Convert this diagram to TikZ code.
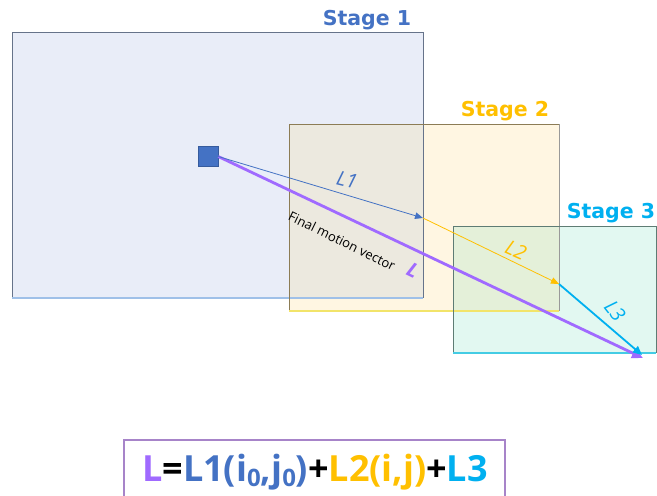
\documentclass[tikz,border=0pt]{standalone}
\usepackage{fontspec}
\setmainfont{Open Sans}
\newfontfamily\dvs{DejaVu Sans}
\usetikzlibrary{arrows.meta}
\definecolor{cblue}{HTML}{4472C4}
\definecolor{cyel}{HTML}{FFC000}
\definecolor{ccyan}{HTML}{00B0F0}
\definecolor{cpurp}{HTML}{A06AFF}
\definecolor{fone}{HTML}{E9EDF8}
\definecolor{ftwo}{HTML}{FFF6E2}
\definecolor{fthree}{HTML}{E2F8F1}
\definecolor{fot}{HTML}{ECE9DF}
\definecolor{fott}{HTML}{E4F0D9}
\definecolor{bone}{HTML}{66738A}
\definecolor{bonel}{HTML}{9FC0E8}
\definecolor{btwo}{HTML}{8C7C55}
\definecolor{btwol}{HTML}{F2E46A}
\definecolor{bthree}{HTML}{5E7C74}
\definecolor{bthreel}{HTML}{44CCE4}
\definecolor{boxc}{HTML}{A784C9}
\tikzset{
  stagebox/.style={inner sep=0pt, outer sep=0pt},
  stagelbl/.style={font=\dvs\bfseries\fontsize{20.5}{22}\selectfont, inner sep=0pt},
  veclbl/.style={font=\itshape\fontsize{20}{22}\selectfont, inner sep=0pt},
  tipA/.style={-{Triangle[length=8pt,width=6.5pt]}},
}
\begin{document}
\begin{tikzpicture}[x=1pt,y=-1pt]
\useasboundingbox[fill=white] (0,0) rectangle (657,496);
% stage fills
\node[stagebox, fill=fone, minimum width=411pt, minimum height=266pt] (s1) at (217.5,165) {};
\node[stagebox, fill=ftwo, minimum width=270pt, minimum height=187pt] (s2) at (424,217.5) {};
\fill[fot] (289,124) rectangle (423,298);
\node[stagebox, fill=fthree, minimum width=203pt, minimum height=127pt] (s3) at (554.5,289.5) {};
\fill[fott] (453,226) rectangle (559,311);
% borders (bevel look)
\draw[bone, line width=1pt] (s1.south west) -- (s1.north west) -- (s1.north east) -- (s1.south east);
\draw[bonel, line width=1.2pt] (s1.south west) -- (s1.south east);
\draw[btwo, line width=1pt] (s2.south west) -- (s2.north west) -- (s2.north east);
\draw[gray!80, line width=1pt] (s2.north east) -- (s2.south east);
\draw[btwol, line width=1.2pt] (s2.south west) -- (s2.south east);
\draw[bthree, line width=1pt] (s3.south west) -- (s3.north west) -- (s3.north east) -- (s3.south east);
\draw[bthreel, line width=1.2pt] (s3.south west) -- (s3.south east);
% stage labels
\node[stagelbl, text=cblue] (t1) at (367,20) {Stage 1};
\node[stagelbl, text=cyel] (t2) at (505,111) {Stage 2};
\node[stagelbl, text=ccyan] (t3) at (611,213) {Stage 3};
% start square
\node[draw=cblue!80!black, line width=0.5pt, fill=cblue, minimum size=20pt, inner sep=0pt] (sq) at (208,156.5) {};
% vector end points
\coordinate (e1) at (423,218);
\coordinate (e2) at (559,284);
\coordinate (e3) at (642,355);
\coordinate (ef) at (643,358);
% final vector
\draw[cpurp, line width=2.8pt, -{Triangle[length=11pt,width=10pt]}] (sq.east) -- (ef);
% stage vectors
\draw[cblue, line width=0.8pt, tipA] (sq.east) -- (e1);
\draw[cyel, line width=0.8pt, tipA] (e1) -- (e2);
\draw[ccyan, line width=1.8pt, -{Triangle[length=9pt,width=8pt]}] (e2) -- (e3);
% vector labels
\node[veclbl, text=cblue, rotate=-14] (l1) at (347,180) {L1};
\node[veclbl, text=cyel, rotate=-24] (l2) at (516,250) {L2};
\node[veclbl, text=ccyan, rotate=-52] (l3) at (615,311) {L3};
\node[font=\fontsize{13}{14}\selectfont, rotate=-26, inner sep=0pt] (fm) at (342,241) {Final motion vector};
\node[font=\itshape\bfseries\fontsize{20}{22}\selectfont, text=cpurp, rotate=-26, inner sep=0pt] (fl) at (413,270) {L};
% formula box
\node[draw=boxc, line width=1.2pt, minimum width=381pt, minimum height=70pt, inner sep=0pt] (fbox) at (314.5,475) {};
\node[font=\bfseries\fontsize{36}{40}\selectfont, inner sep=0pt, anchor=base] (eq) at (315,481)
 {\textcolor{cpurp}{L}=\textcolor{cblue}{L1(i\raisebox{-0.3ex}{\fontsize{24}{24}\selectfont 0},j\raisebox{-0.3ex}{\fontsize{24}{24}\selectfont 0})}+\textcolor{cyel}{L2(i,j)}+\textcolor{ccyan}{L3}};
\end{tikzpicture}
\end{document}
